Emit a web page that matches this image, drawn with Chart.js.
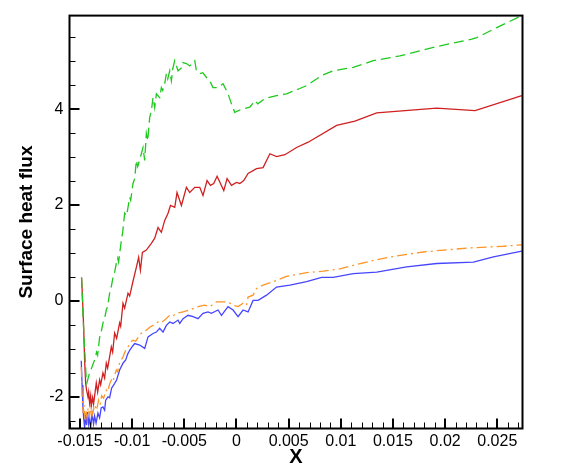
<!DOCTYPE html>
<html>
<head>
<meta charset="utf-8">
<script src="https://cdn.jsdelivr.net/npm/chart.js@4/dist/chart.umd.min.js"></script>
<style>
  html, body { margin: 0; padding: 0; background: #fff; }
  #wrap { width: 586px; height: 469px; }
</style>
</head>
<body>
<div id="wrap"><canvas id="chart" width="586" height="469"></canvas></div>
<script>
// tick labels
const xTicks = [-0.015, -0.01, -0.005, 0, 0.005, 0.01, 0.015, 0.02, 0.025];
const yTicks = [-2, 0, 2, 4];

// green dashed
const greenX = [-0.01485, -0.01465, -0.01440, -0.01434, -0.01422, -0.01408, -0.01389, -0.01360, -0.01341, -0.01331,
  -0.01312, -0.01293, -0.01280, -0.01264, -0.01248, -0.01235, -0.01216, -0.01197, -0.01184, -0.01168,
  -0.01152, -0.01139, -0.01130, -0.01104, -0.01091, -0.01072, -0.01053, -0.01024, -0.01014, -0.00992,
  -0.00976, -0.00960, -0.00947, -0.00912, -0.00896, -0.00880, -0.00864, -0.00851, -0.00832, -0.00816,
  -0.00800, -0.00784, -0.00768, -0.00736, -0.00720, -0.00707, -0.00688, -0.00672, -0.00659, -0.00640,
  -0.00624, -0.00611, -0.00592, -0.00560, -0.00528, -0.00515, -0.00480, -0.00448, -0.00400, -0.00384,
  -0.00352, -0.00323, -0.00288, -0.00256, -0.00225, -0.00177, -0.00129, -0.00081, -0.00048, -0.00016,
  -0.00002, 0.00041, 0.00128, 0.00176, 0.00204, 0.00272, 0.00384, 0.00480, 0.00607, 0.00672,
  0.00816, 0.00927, 0.01119, 0.01311, 0.01567, 0.01887, 0.02255, 0.02303, 0.02495, 0.02735];
const greenY = [0.49, -0.61, -1.65, -1.71, -1.61, -1.50, -1.40, -1.23, -1.07, -1.13,
  -0.76, -0.61, -0.46, -0.36, -0.19, -0.11, 0.16, 0.33, 0.49, 0.60,
  0.78, 0.89, 0.81, 1.26, 1.43, 1.83, 1.78, 2.16, 2.10, 2.45,
  2.55, 2.93, 2.80, 3.07, 3.20, 2.93, 3.49, 3.34, 3.83, 3.97,
  4.24, 4.03, 4.32, 4.24, 4.45, 4.39, 4.53, 4.74, 4.63, 4.80,
  4.59, 4.84, 5.01, 4.80, 4.86, 4.97, 4.95, 4.90, 5.01, 4.80,
  4.74, 4.76, 4.66, 4.59, 4.45, 4.45, 4.53, 4.32, 4.11, 3.93,
  3.95, 3.99, 4.04, 4.18, 4.11, 4.22, 4.28, 4.32, 4.43, 4.49,
  4.70, 4.80, 4.87, 5.01, 5.11, 5.29, 5.46, 5.49, 5.70, 5.95];

// red solid
const redX = [-0.01485, -0.01478, -0.01465, -0.01456, -0.01446, -0.01437, -0.01424, -0.01417, -0.01408, -0.01398,
  -0.01392, -0.01379, -0.01370, -0.01344, -0.01331, -0.01312, -0.01302, -0.01280, -0.01264, -0.01248,
  -0.01235, -0.01200, -0.01187, -0.01168, -0.01149, -0.01120, -0.01110, -0.01088, -0.01072, -0.01040,
  -0.01024, -0.00992, -0.00960, -0.00938, -0.00921, -0.00902, -0.00864, -0.00816, -0.00784, -0.00752,
  -0.00720, -0.00688, -0.00656, -0.00633, -0.00592, -0.00570, -0.00528, -0.00480, -0.00448, -0.00400,
  -0.00352, -0.00321, -0.00282, -0.00250, -0.00218, -0.00186, -0.00122, -0.00090, -0.00048, 0.00000,
  0.00032, 0.00070, 0.00111, 0.00192, 0.00255, 0.00320, 0.00384, 0.00464, 0.00576, 0.00687,
  0.00960, 0.01135, 0.01344, 0.01919, 0.02287, 0.02735];
const redY = [0.49, 0.16, -0.55, -1.23, -1.71, -1.86, -2.00, -1.90, -2.13, -1.98,
  -2.19, -2.02, -2.15, -1.71, -1.90, -1.65, -1.75, -1.50, -1.61, -1.30,
  -1.40, -0.96, -1.07, -0.67, -0.78, -0.46, -0.53, -0.05, -0.15, 0.16,
  0.10, 0.41, 0.70, 0.91, 0.64, 1.01, 1.06, 1.20, 1.31, 1.53,
  1.43, 1.68, 1.83, 1.99, 1.95, 2.26, 1.99, 2.37, 2.26, 2.37,
  2.37, 2.20, 2.51, 2.41, 2.45, 2.60, 2.30, 2.55, 2.41, 2.47,
  2.45, 2.51, 2.66, 2.76, 2.78, 3.07, 3.01, 3.05, 3.20, 3.31,
  3.66, 3.75, 3.92, 4.02, 3.97, 4.28];

// orange dash-dot
const orangeX = [-0.01488, -0.01480, -0.01470, -0.01461, -0.01451, -0.01441, -0.01432, -0.01422, -0.01408, -0.01393,
  -0.01379, -0.01360, -0.01341, -0.01322, -0.01307, -0.01293, -0.01274, -0.01248, -0.01235, -0.01216,
  -0.01200, -0.01187, -0.01152, -0.01139, -0.01120, -0.01088, -0.01062, -0.01040, -0.01014, -0.00992,
  -0.00966, -0.00928, -0.00900, -0.00864, -0.00832, -0.00800, -0.00752, -0.00726, -0.00688, -0.00640,
  -0.00611, -0.00576, -0.00512, -0.00448, -0.00369, -0.00304, -0.00256, -0.00192, -0.00129, -0.00081,
  -0.00033, 0.00015, 0.00063, 0.00096, 0.00111, 0.00159, 0.00192, 0.00255, 0.00351, 0.00480,
  0.00672, 0.00831, 0.00991, 0.01152, 0.01344, 0.01536, 0.01791, 0.01983, 0.02271, 0.02559, 0.02735];
const orangeY = [-1.38, -1.96, -2.34, -2.17, -2.48, -2.28, -2.44, -2.23, -2.40, -2.19,
  -2.36, -2.17, -2.28, -2.07, -2.17, -1.98, -2.03, -1.86, -1.90, -1.73,
  -1.65, -1.69, -1.44, -1.48, -1.28, -1.17, -1.03, -0.96, -0.86, -0.82,
  -0.84, -0.71, -0.65, -0.61, -0.55, -0.51, -0.44, -0.46, -0.40, -0.30,
  -0.32, -0.26, -0.23, -0.19, -0.12, -0.09, -0.12, -0.02, -0.02, -0.02,
  -0.09, -0.12, -0.05, -0.09, 0.08, 0.12, 0.26, 0.33, 0.40, 0.51,
  0.59, 0.62, 0.67, 0.76, 0.86, 0.94, 1.02, 1.06, 1.11, 1.14, 1.17];

// blue solid
const blueX = [-0.01488, -0.01480, -0.01472, -0.01465, -0.01456, -0.01446, -0.01437, -0.01427, -0.01417, -0.01408,
  -0.01398, -0.01384, -0.01370, -0.01360, -0.01346, -0.01328, -0.01312, -0.01297, -0.01280, -0.01264,
  -0.01254, -0.01232, -0.01216, -0.01197, -0.01168, -0.01149, -0.01120, -0.01088, -0.01062, -0.01043,
  -0.01024, -0.00995, -0.00976, -0.00928, -0.00880, -0.00848, -0.00800, -0.00768, -0.00736, -0.00704,
  -0.00672, -0.00640, -0.00608, -0.00560, -0.00544, -0.00512, -0.00464, -0.00416, -0.00369, -0.00321,
  -0.00273, -0.00240, -0.00177, -0.00144, -0.00081, -0.00033, 0.00015, 0.00063, 0.00111, 0.00159,
  0.00207, 0.00288, 0.00384, 0.00512, 0.00672, 0.00816, 0.00927, 0.01119, 0.01344, 0.01631,
  0.01919, 0.02271, 0.02463, 0.02735];
const blueY = [-1.25, -1.76, -2.21, -2.44, -2.65, -2.38, -2.59, -2.32, -2.57, -2.44,
  -2.65, -2.36, -2.57, -2.40, -2.55, -2.34, -2.44, -2.23, -2.21, -2.28,
  -2.07, -2.00, -2.02, -1.82, -1.72, -1.65, -1.44, -1.30, -1.23, -1.11,
  -1.03, -0.94, -0.89, -0.92, -0.99, -0.75, -0.68, -0.65, -0.57, -0.65,
  -0.51, -0.44, -0.47, -0.40, -0.47, -0.37, -0.30, -0.33, -0.37, -0.26,
  -0.23, -0.26, -0.19, -0.30, -0.12, -0.19, -0.33, -0.19, -0.23, 0.01,
  0.01, 0.12, 0.29, 0.33, 0.40, 0.49, 0.49, 0.57, 0.60, 0.71,
  0.78, 0.81, 0.92, 1.04];

const pts = (xs, ys) => xs.map((x, i) => ({ x: x, y: ys[i] }));

// frame + inward ticks (Tecplot style)
const framePlugin = {
    id: 'frame',
    afterDatasetsDraw(chart) {
        const { ctx, chartArea: a, scales } = chart;
        const xs = scales.x, ys = scales.y;
        ctx.save();
        ctx.strokeStyle = '#000';
        ctx.lineWidth = 1;
        ctx.beginPath();
        // minor x ticks every 0.001
        for (let v = -0.016; v <= 0.0275; v += 0.001) {
            const px = Math.round(xs.getPixelForValue(v)) + 0.5;
            if (px < a.left || px > a.right) continue;
            ctx.moveTo(px, a.bottom);
            ctx.lineTo(px, a.bottom - 6);
        }
        // minor y ticks every 0.5
        for (let v = -2.5; v <= 5.9; v += 0.5) {
            const py = Math.round(ys.getPixelForValue(v)) + 0.5;
            ctx.moveTo(a.left, py);
            ctx.lineTo(a.left + 6, py);
        }
        ctx.stroke();
        ctx.lineWidth = 2;
        ctx.beginPath();
        xTicks.forEach(v => {
            const px = Math.round(xs.getPixelForValue(v));
            ctx.moveTo(px, a.bottom);
            ctx.lineTo(px, a.bottom - 10);
        });
        yTicks.forEach(v => {
            const py = Math.round(ys.getPixelForValue(v));
            ctx.moveTo(a.left, py);
            ctx.lineTo(a.left + 10, py);
        });
        ctx.stroke();
        ctx.lineWidth = 2;
        ctx.strokeRect(a.left, a.top, a.right - a.left, a.bottom - a.top);
        ctx.restore();
    }
};

const base = { fill: false, pointRadius: 0, borderWidth: 1.3, tension: 0 };

new Chart(document.getElementById('chart').getContext('2d'), {
    type: 'line',
    data: {
        datasets: [
            { ...base, label: 'green', data: pts(greenX, greenY), borderColor: '#1ec81e', borderDash: [10, 5] },
            { ...base, label: 'red', data: pts(redX, redY), borderColor: '#d02020' },
            { ...base, label: 'orange', data: pts(orangeX, orangeY), borderColor: '#ff9428', borderDash: [10, 4, 2, 4] },
            { ...base, label: 'blue', data: pts(blueX, blueY), borderColor: '#4646ff' }
        ]
    },
    options: {
        responsive: false,
        animation: false,
        layout: { padding: { left: 0, top: 14.5, right: 63.5, bottom: 0 } },
        plugins: { legend: { display: false }, tooltip: { enabled: false } },
        scales: {
            x: {
                type: 'linear',
                min: -0.016007,
                max: 0.027416,
                grid: { display: false, drawTicks: false },
                border: { display: false },
                afterBuildTicks: s => { s.ticks = xTicks.map(v => ({ value: v })); },
                afterFit: s => { s.height = 40.5; },
                ticks: {
                    autoSkip: false, maxRotation: 0, padding: 3, color: '#000',
                    font: { family: 'Liberation Sans', size: 16 },
                    callback: v => String(v)
                },
                title: {
                    display: true, text: 'X', color: '#000',
                    font: { family: 'Liberation Sans', size: 20, weight: 'bold' },
                    padding: { top: 1.5, bottom: 0 }
                }
            },
            y: {
                type: 'linear',
                min: -2.6615,
                max: 5.951,
                grid: { display: false, drawTicks: false },
                border: { display: false },
                afterBuildTicks: s => { s.ticks = yTicks.map(v => ({ value: v })); },
                afterFit: s => { s.width = 69.5; },
                ticks: {
                    autoSkip: false, padding: 6, color: '#000',
                    font: { family: 'Liberation Sans', size: 16 },
                    callback: v => String(v)
                },
                title: {
                    display: true, text: 'Surface heat flux', color: '#000',
                    font: { family: 'Liberation Sans', size: 19, weight: 'bold' },
                    padding: { top: 15, bottom: 0 }
                }
            }
        }
    },
    plugins: [framePlugin]
});
</script>
</body>
</html>
